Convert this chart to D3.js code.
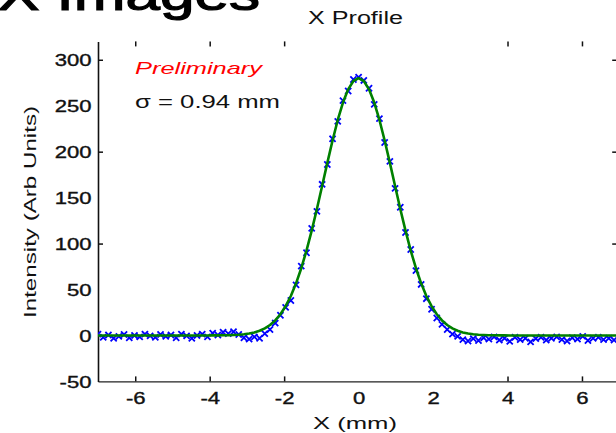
<!DOCTYPE html>
<html>
<head>
<meta charset="utf-8">
<script src="https://cdn.jsdelivr.net/npm/d3@7"></script>
<style>
  html, body { margin: 0; padding: 0; background: #fff; overflow: hidden; }
  svg { display: block; }
  text { font-family: "Liberation Sans", Arial, sans-serif; }
</style>
</head>
<body>
<script>
// Beam profile along X: measured pixel intensities and Gaussian fit
const positionsMm = [
  -7.00, -6.86, -6.72, -6.58, -6.44, -6.30, -6.16, -6.02, -5.88, -5.74,
  -5.60, -5.46, -5.32, -5.18, -5.04, -4.90, -4.76, -4.62, -4.48, -4.34,
  -4.20, -4.06, -3.92, -3.78, -3.64, -3.50, -3.36, -3.22, -3.08, -2.94,
  -2.80, -2.66, -2.52, -2.38, -2.24, -2.10, -1.96, -1.82, -1.68, -1.54,
  -1.40, -1.26, -1.12, -0.98, -0.84, -0.70, -0.56, -0.42, -0.28, -0.14,
   0.00,  0.14,  0.28,  0.42,  0.56,  0.70,  0.84,  0.98,  1.12,  1.26,
   1.40,  1.54,  1.68,  1.82,  1.96,  2.10,  2.24,  2.38,  2.52,  2.66,
   2.80,  2.94,  3.08,  3.22,  3.36,  3.50,  3.64,  3.78,  3.92,  4.06,
   4.20,  4.34,  4.48,  4.62,  4.76,  4.90,  5.04,  5.18,  5.32,  5.46,
   5.60,  5.74,  5.88,  6.02,  6.16,  6.30,  6.44,  6.58,  6.72,  6.86,
   7.00
];
const intensity = [
   1.5, -2.0,  0.5, -3.0, -1.0,  1.0, -2.5,  0.0, -1.5,  1.5,
  -0.5, -2.0,  1.0, -1.0,  0.5, -2.5,  1.5, -0.5, -3.0,  0.0,
   1.5, -1.5,  2.5,  0.5,  3.5,  2.0,  4.0,  1.0, -2.5, -4.0,
  -1.5, -3.0,  2.0,  6.5, 13.5, 22.0, 30.5, 38.0, 55.0, 75.5,
  90.0, 116.5, 135.0, 164.5, 186.0, 214.0, 233.0, 255.5, 266.0, 278.5,
 281.0, 277.5, 269.0, 251.5, 236.0, 210.0, 189.5, 160.0, 139.5, 112.0,
  93.5, 70.5, 55.5, 40.0, 28.5, 19.0, 12.0,  6.5,  1.5, -1.0,
  -4.5, -6.0, -3.5, -5.5, -2.5, -4.0, -1.5, -5.0, -3.0, -6.5,
  -2.0, -4.5, -3.0, -7.0, -3.5, -2.0, -5.0, -3.0, -1.5, -4.5,
  -6.0, -2.5, -4.0, -1.0, -5.5, -3.0, -2.0, -4.5, -3.0, -5.0,
  -2.5
];

// Gaussian fit parameters (sigma as quoted on the plot)
const fitAmplitude = 280;
const fitCenter = 0;
const fitSigma = 0.94;
const fitOffset = 0;

const xTickLabels = [-6, -4, -2, 0, 2, 4, 6];
const xTickMarks = [-6, -4, -2, 4, 6];
const yTickLabels = [-50, 0, 50, 100, 150, 200, 250, 300];
const yTickMarks = [100, 200, 300];

const W = 616, H = 433;
const svg = d3.select("body").append("svg").attr("width", W).attr("height", H);

const x = d3.scaleLinear().domain([-7, 7]).range([98, 619.2]);
const y = d3.scaleLinear().domain([-50, 320]).range([381.4, 41.4]);

// Slide heading, running off the top of the page
svg.append("text")
  .attr("x", -2).attr("y", 10)
  .attr("font-family", "DejaVu Sans, sans-serif")
  .attr("font-size", 46)
  .attr("stroke", "#000").attr("stroke-width", 1.2)
  .attr("textLength", 262).attr("lengthAdjust", "spacingAndGlyphs")
  .attr("fill", "#000")
  .text("X Images");

// Chart title
svg.append("text")
  .attr("x", 308).attr("y", 24)
  .attr("font-size", 18)
  .attr("textLength", 95).attr("lengthAdjust", "spacingAndGlyphs")
  .attr("fill", "#111")
  .text("X Profile");

const sx = 1.38;

// Bottom axis: labels
const gxl = svg.append("g").attr("transform", `translate(0,${y(-50)})`)
  .call(d3.axisBottom(x).tickValues(xTickLabels).tickSize(0).tickFormat(d3.format("d")));
gxl.select(".domain").remove();
gxl.selectAll("text")
  .attr("y", 22.5).attr("dy", 0)
  .attr("font-size", 16).attr("fill", "#111")
  .attr("stroke", "#111").attr("stroke-width", 0.35)
  .attr("font-family", "Liberation Sans, Arial, sans-serif")
  .attr("transform", `scale(${sx},1)`)
  .text(d => d < 0 ? "-" + Math.abs(d) : String(d));

// Bottom axis: inward tick marks and line
const gxb = svg.append("g").attr("transform", `translate(0,${y(-50)})`)
  .call(d3.axisBottom(x).tickValues(xTickMarks).tickSizeInner(-5).tickSizeOuter(0).tickFormat(""));
gxb.select(".domain").attr("stroke", "#222").attr("stroke-width", 1.4);
gxb.selectAll(".tick line").attr("stroke", "#111").attr("stroke-width", 1.5);

// Top tick marks
const gxt = svg.append("g").attr("transform", `translate(0,${y(320)})`)
  .call(d3.axisTop(x).tickValues(xTickMarks).tickSizeInner(-5).tickSizeOuter(0).tickFormat(""));
gxt.select(".domain").remove();
gxt.selectAll(".tick line").attr("stroke", "#111").attr("stroke-width", 1.5);

// Left axis: labels
const gyl = svg.append("g").attr("transform", `translate(${x(-7)},0)`)
  .call(d3.axisLeft(y).tickValues(yTickLabels).tickSize(0).tickFormat(d3.format("d")));
gyl.select(".domain").remove();
gyl.selectAll("text")
  .attr("x", -6.5 / sx).attr("dy", "0.36em")
  .attr("font-size", 16).attr("fill", "#111")
  .attr("stroke", "#111").attr("stroke-width", 0.35)
  .attr("font-family", "Liberation Sans, Arial, sans-serif")
  .attr("transform", `scale(${sx},1)`)
  .text(d => d < 0 ? "-" + Math.abs(d) : String(d));

// Left axis: line and inward ticks
const gyt = svg.append("g").attr("transform", `translate(${x(-7)},0)`)
  .call(d3.axisLeft(y).tickValues(yTickMarks).tickSizeInner(-5).tickSizeOuter(0).tickFormat(""));
gyt.select(".domain").attr("stroke", "#111").attr("stroke-width", 1.6);
gyt.selectAll(".tick line").attr("stroke", "#111").attr("stroke-width", 1.5);

// Right axis ticks
const gyr = svg.append("g").attr("transform", `translate(${x(7)},0)`)
  .call(d3.axisRight(y).tickValues(yTickMarks).tickSizeInner(-7).tickSizeOuter(0).tickFormat(""));
gyr.select(".domain").remove();
gyr.selectAll(".tick line").attr("stroke", "#111").attr("stroke-width", 1.5);

// Axis titles
svg.append("text")
  .attr("x", 313).attr("y", 429)
  .attr("font-size", 17)
  .attr("textLength", 84).attr("lengthAdjust", "spacingAndGlyphs")
  .attr("fill", "#111")
  .text("X (mm)");

svg.append("text")
  .attr("transform", "translate(36,318) rotate(-90)")
  .attr("x", 0).attr("y", 0)
  .attr("font-size", 16.5)
  .attr("textLength", 212).attr("lengthAdjust", "spacingAndGlyphs")
  .attr("fill", "#111")
  .text("Intensity (Arb Units)");

// Annotations
svg.append("text")
  .attr("x", 135).attr("y", 74)
  .attr("font-size", 16.5).attr("font-style", "italic")
  .attr("textLength", 127).attr("lengthAdjust", "spacingAndGlyphs")
  .attr("fill", "#ff0000")
  .text("Preliminary");

svg.append("text")
  .attr("x", 135).attr("y", 107.5)
  .attr("font-size", 19)
  .attr("textLength", 145).attr("lengthAdjust", "spacingAndGlyphs")
  .attr("fill", "#111")
  .text("σ = 0.94 mm");

// Plot area clip
svg.append("clipPath").attr("id", "plot")
  .append("rect").attr("x", x(-7)).attr("y", y(320))
  .attr("width", x(7) - x(-7)).attr("height", y(-50) - y(320));

const plot = svg.append("g").attr("clip-path", "url(#plot)");

// Measured points
const pts = positionsMm.map((p, i) => ({ p, v: intensity[i] }));
const marker = d3.symbol().type(d3.symbolX).size(26);
plot.selectAll("path.pt").data(pts).join("path")
  .attr("class", "pt")
  .attr("d", marker)
  .attr("transform", d => `translate(${x(d.p)},${y(d.v)})`)
  .attr("fill", "none")
  .attr("stroke", "#0000ff")
  .attr("stroke-width", 1.8);

// Gaussian fit
const fit = positionsMm.map(p => ({
  p,
  v: fitOffset + fitAmplitude * Math.exp(-((p - fitCenter) ** 2) / (2 * fitSigma * fitSigma))
}));
plot.append("path")
  .datum(fit)
  .attr("d", d3.line().x(d => x(d.p)).y(d => y(d.v)))
  .attr("fill", "none")
  .attr("stroke", "#008000")
  .attr("stroke-width", 2.6)
  .attr("stroke-linejoin", "round");
</script>
</body>
</html>
